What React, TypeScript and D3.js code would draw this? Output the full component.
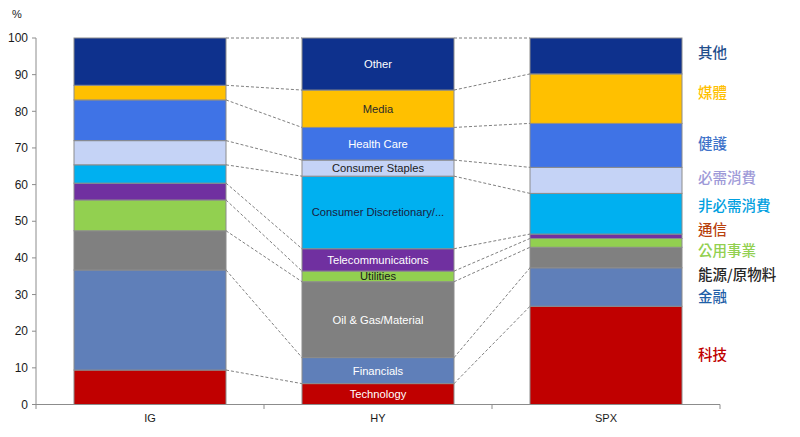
import React from "react";
import * as d3 from "d3";

const categories = ["IG", "HY", "SPX"];
const sectors = [
  "Technology",
  "Financials",
  "Oil & Gas/Material",
  "Utilities",
  "Telecommunications",
  "Consumer Discretionary/...",
  "Consumer Staples",
  "Health Care",
  "Media",
  "Other",
];
const igValues = [9.4, 27.3, 10.7, 8.4, 4.6, 5.0, 6.6, 11.1, 4.0, 12.9];
const hyValues = [5.7, 7.1, 20.7, 2.9, 6.1, 19.8, 4.4, 8.9, 10.2, 14.2];
const spxValues = [26.8, 10.5, 5.6, 2.4, 1.2, 11.1, 7.1, 12.0, 13.5, 9.8];
const chineseLabels = ["科技", "金融", "能源/原物料", "公用事業", "通信", "非必需消費", "必需消費", "健護", "媒體", "其他"];
const yTicks = [0, 10, 20, 30, 40, 50, 60, 70, 80, 90, 100];

const fillColors = ["#C00000", "#5F7FB9", "#808080", "#92D050", "#7030A0", "#00B0F0", "#C5D3F6", "#3F73E6", "#FFC000", "#0E318D"];
const innerTextColors = ["#fff", "#fff", "#fff", "#1a1a1a", "#fff", "#1a2040", "#1a1a1a", "#fff", "#2a2a2a", "#fff"];
const legendColors = ["#C00000", "#1F5FA8", "#262626", "#92D050", "#B8400C", "#00A0E0", "#9E9AD8", "#3D72C9", "#FFC000", "#1F4E8C"];
const legendY = [355, 297, 275, 251, 230, 206, 178, 144, 93, 53];

const seriesValues = [igValues, hyValues, spxValues];

export default function App() {
  const x = d3.scaleBand<string>().domain(categories).range([36, 720]).paddingInner(1 / 3).paddingOuter(1 / 6);
  const y = d3.scaleLinear().domain([0, 100]).range([404.5, 38]);
  const bw = x.bandwidth();

  const stacks = seriesValues.map((vals) => {
    let acc = 0;
    return vals.map((v) => {
      const s = { y0: acc, y1: acc + v };
      acc += v;
      return s;
    });
  });

  const font = "Liberation Sans, Arial, sans-serif";
  const step = x.step();
  const boundaries = [36, 36 + step, 36 + 2 * step, 36 + 3 * step];

  return (
    <svg width={800} height={437} style={{ position: "absolute", left: 0, top: 0, background: "#fff" }}>
      {/* connectors */}
      {categories.slice(0, -1).map((c, i) => {
        const xa = (x(c) as number) + bw;
        const xb = x(categories[i + 1]) as number;
        return stacks[i].map((seg, k) => (
          <line
            key={`c-${i}-${k}`}
            x1={xa}
            y1={y(seg.y1)}
            x2={xb}
            y2={y(stacks[i + 1][k].y1)}
            stroke="#7f7f7f"
            strokeDasharray="3,2"
            strokeWidth={1}
          />
        ));
      })}
      {/* bars */}
      {categories.map((c, i) =>
        stacks[i].map((seg, k) => (
          <rect
            key={`b-${i}-${k}`}
            x={x(c)}
            y={y(seg.y1)}
            width={bw}
            height={y(seg.y0) - y(seg.y1)}
            fill={fillColors[k]}
            stroke="#8c8c8c"
            strokeWidth={1}
          />
        ))
      )}
      {/* HY labels */}
      {stacks[1].map((seg, k) => (
        <text
          key={`l-${k}`}
          x={(x("HY") as number) + bw / 2}
          y={(y(seg.y0) + y(seg.y1)) / 2}
          dy="0.35em"
          textAnchor="middle"
          fontFamily={font}
          fontSize={11.2}
          fill={innerTextColors[k]}
        >
          {sectors[k]}
        </text>
      ))}
      {/* y axis */}
      <line x1={36} y1={38} x2={36} y2={404.5} stroke="#8c8c8c" />
      {yTicks.map((t) => (
        <g key={`yt-${t}`}>
          <line x1={32} x2={36} y1={y(t)} y2={y(t)} stroke="#8c8c8c" />
          <text x={28} y={y(t)} dy="0.35em" textAnchor="end" fontFamily={font} fontSize={12} fill="#1a1a1a">
            {t}
          </text>
        </g>
      ))}
      <text x={12} y={18} fontFamily={font} fontSize={11} fill="#1a1a1a">%</text>
      {/* x axis */}
      <line x1={36} y1={404.5} x2={720} y2={404.5} stroke="#8c8c8c" />
      {boundaries.map((b, i) => (
        <line key={`xt-${i}`} x1={b} x2={b} y1={404.5} y2={409} stroke="#8c8c8c" />
      ))}
      {categories.map((c) => (
        <text key={`xl-${c}`} x={(x(c) as number) + bw / 2} y={422} textAnchor="middle" fontFamily={font} fontSize={11} fill="#1a1a1a">
          {c}
        </text>
      ))}
      {/* chinese legend */}
      {chineseLabels.map((l, k) => (
        <text
          key={`cl-${k}`}
          x={698}
          y={legendY[k]}
          dy="0.35em"
          fontFamily="Noto Sans CJK TC, sans-serif"
          fontWeight={500}
          fontSize={14.5}
          fill={legendColors[k]}
        >
          {l}
        </text>
      ))}
    </svg>
  );
}
